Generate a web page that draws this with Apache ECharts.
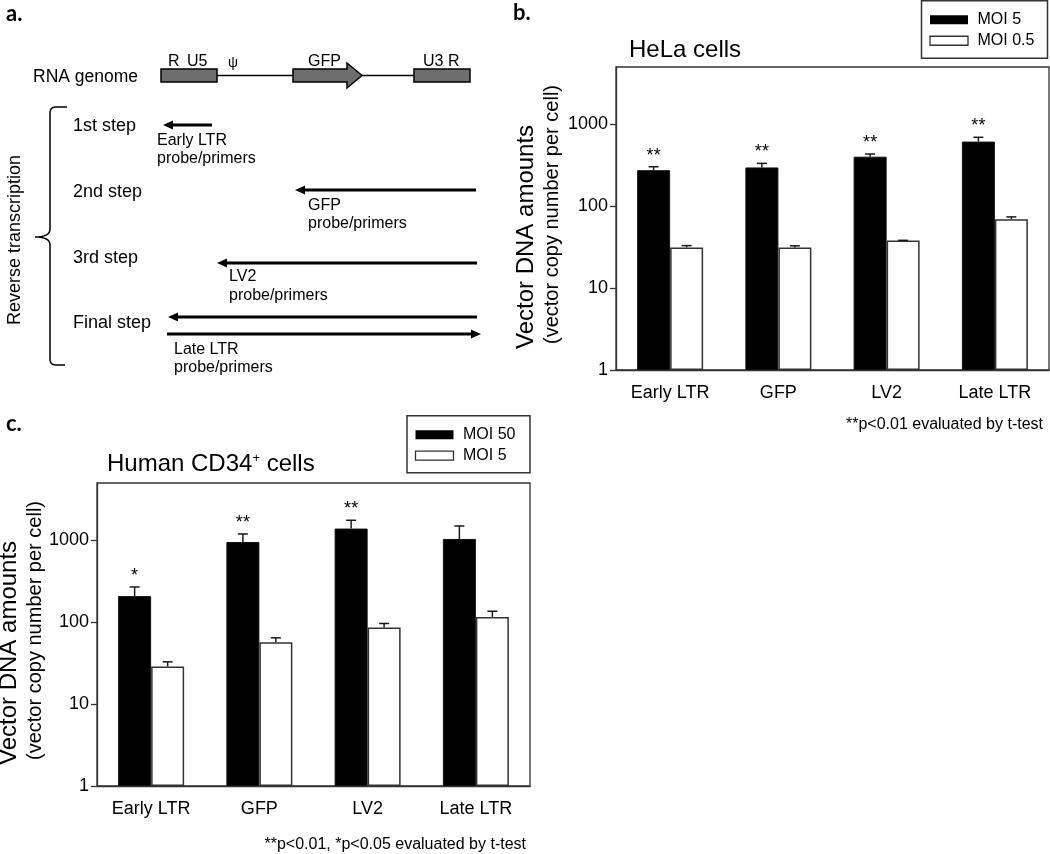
<!DOCTYPE html>
<html><head><meta charset="utf-8">
<script src="https://cdn.jsdelivr.net/npm/echarts@6/dist/echarts.min.js"></script>
<style>html,body{margin:0;padding:0;background:#fff}#c{width:1050px;height:854px}</style>
</head><body><div id="c"></div>
<script>
// ---- data ----
const categories = ['Early LTR', 'GFP', 'LV2', 'Late LTR'];
const yTicks = [1, 10, 100, 1000];
const helaMoi5 = [275, 297, 402, 614];
const helaMoi5Se = [28, 36, 31, 79];
const helaMoi05 = [31.4, 31.2, 38.1, 69.3];
const helaMoi05Se = [1.6, 1.6, 0.2, 4.7];
const helaStars = ['**', '**', '**', '**'];
const cd34Moi50 = [208, 953, 1389, 1037];
const cd34Moi50Se = [61, 241, 365, 457];
const cd34Moi5 = [28.8, 57, 86.1, 116];
const cd34Moi5Se = [4, 7.4, 10.3, 20];
const cd34Stars = ['*', '**', '**', ''];

// ---- style ----
const FONT = '"Liberation Sans", Arial, sans-serif';
const BOLD = 'bold 22px Lato, "Open Sans", sans-serif';
const AX = '#333';
const BAR_W = 33;
const CAP = 5;

function errRender(side, stars) {
  return function (params, api) {
    const i = params.dataIndex;
    const m = api.value(1), se = api.value(2);
    const b = api.coord([api.value(0), m]);
    const t = api.coord([api.value(0), m + se]);
    const x = b[0] + side * BAR_W / 2;
    const ls = { stroke: '#1a1a1a', lineWidth: 1.5 };
    const ch = [
      { type: 'line', shape: { x1: x, y1: b[1], x2: x, y2: t[1] }, style: ls },
      { type: 'line', shape: { x1: x - CAP, y1: t[1], x2: x + CAP, y2: t[1] }, style: ls }
    ];
    if (stars && stars[i]) {
      ch.push({ type: 'text', style: { text: stars[i], x: x, y: t[1] - 11, align: 'center', verticalAlign: 'middle', font: '18px ' + FONT, fill: '#000' } });
    }
    return { type: 'group', children: ch };
  };
}

function makeAxes(gi) {
  const lineStyle = { color: AX, width: 1.3 };
  return {
    x: { type: 'category', gridIndex: gi, data: categories, axisTick: { show: false },
      axisLine: { lineStyle }, axisLabel: { fontSize: 18, color: '#000', fontFamily: FONT, margin: 14 } },
    y: { type: 'log', logBase: 10, gridIndex: gi, min: 1, max: 5000, splitLine: { show: false },
      axisLine: { show: true, lineStyle },
      axisTick: { show: true, inside: false, length: 6, lineStyle, customValues: yTicks },
      axisLabel: { fontSize: 18, color: '#000', fontFamily: FONT, margin: 8,
        customValues: yTicks, formatter: v => String(Math.round(v)) } }
  };
}
const a0 = makeAxes(0), a1 = makeAxes(1);

function barSeries(name, gi, data, dark) {
  return { type: 'bar', name, xAxisIndex: gi, yAxisIndex: gi, data, barWidth: BAR_W, barGap: '0%',
    itemStyle: dark ? { color: '#000', borderColor: '#111', borderWidth: 1 } : { color: '#fff', borderColor: '#333', borderWidth: 1.5 } };
}
function errSeries(gi, means, ses, side, stars) {
  return { type: 'custom', xAxisIndex: gi, yAxisIndex: gi, z: 5, silent: true,
    data: categories.map((c, i) => [i, means[i], ses[i]]), encode: { x: 0, y: 1 },
    renderItem: errRender(side, stars) };
}

// ---- graphic helpers ----
function txt(x, y, s, size, extra) {
  return { type: 'text', x, y, style: Object.assign({ text: s, font: size + 'px ' + FONT, fill: '#000', align: 'left', verticalAlign: 'middle' }, extra || {}) };
}
function arrow(xTail, xTip, y) {
  const d = xTip > xTail ? 1 : -1, hl = 10, hw = 4.5;
  return [
    { type: 'line', shape: { x1: xTail, y1: y, x2: xTip - d * (hl - 1), y2: y }, style: { stroke: '#000', lineWidth: 3 } },
    { type: 'polygon', shape: { points: [[xTip, y], [xTip - d * hl, y - hw], [xTip - d * hl, y + hw]] }, style: { fill: '#000' } }
  ];
}
function vText(x, y, s, size) {
  return { type: 'text', x, y, rotation: Math.PI / 2, style: { text: s, font: size + 'px ' + FONT, fill: '#000', align: 'left', verticalAlign: 'middle' } };
}
function legendBox(x, y, w, h, items) {
  const g = [{ type: 'rect', shape: { x, y, width: w, height: h }, style: { fill: '#fff', stroke: AX, lineWidth: 1.5 } }];
  items.forEach((it, k) => {
    const cy = y + 19 + k * 21;
    g.push({ type: 'rect', shape: { x: x + 8.5, y: cy - 4.5, width: 38, height: 9 }, style: it.dark ? { fill: '#000' } : { fill: '#fff', stroke: AX, lineWidth: 1.3 } });
    g.push(txt(x + 56, cy, it.name, 16));
  });
  return g;
}
// quadratic curve sampled into points for a polyline
function quad(p0, p1, p2, n) {
  const pts = [];
  for (let k = 1; k <= n; k++) {
    const t = k / n, u = 1 - t;
    pts.push([u * u * p0[0] + 2 * u * t * p1[0] + t * t * p2[0], u * u * p0[1] + 2 * u * t * p1[1] + t * t * p2[1]]);
  }
  return pts;
}
const bracePts = [[67, 107], [56, 107]]
  .concat(quad([56, 107], [50, 107], [50, 113], 6))
  .concat([[50, 229]])
  .concat(quad([50, 229], [50, 237], [35, 237], 8))
  .concat(quad([35, 237], [50, 237], [50, 245], 8))
  .concat([[50, 359]])
  .concat(quad([50, 359], [50, 365], [56, 365], 6))
  .concat([[65, 365]]);

const gray = '#6e6e6e';
const graphics = [].concat(
  [
    { type: 'text', x: 6, y: 14, style: { text: 'a.', font: BOLD, fill: '#000', verticalAlign: 'middle' } },
    { type: 'text', x: 513, y: 13, style: { text: 'b.', font: BOLD, fill: '#000', verticalAlign: 'middle' } },
    { type: 'text', x: 6, y: 424, style: { text: 'c.', font: BOLD, fill: '#000', verticalAlign: 'middle' } },
    txt(33, 77, 'RNA genome', 17.5),
    txt(168, 62, 'R', 16), txt(187, 62, 'U5', 16), txt(228, 63, 'ψ', 14), txt(308, 62, 'GFP', 16), txt(423, 62, 'U3', 16), txt(448, 62, 'R', 16),
    { type: 'line', shape: { x1: 217, y1: 75.5, x2: 293, y2: 75.5 }, style: { stroke: '#000', lineWidth: 1.5 } },
    { type: 'line', shape: { x1: 362, y1: 75.5, x2: 414, y2: 75.5 }, style: { stroke: '#000', lineWidth: 1.5 } },
    { type: 'rect', shape: { x: 161, y: 69, width: 56, height: 13 }, style: { fill: gray, stroke: '#000', lineWidth: 1.5 } },
    { type: 'rect', shape: { x: 414, y: 69, width: 56, height: 13 }, style: { fill: gray, stroke: '#000', lineWidth: 1.5 } },
    { type: 'polygon', shape: { points: [[293, 69], [347, 69], [347, 63], [362, 75.5], [347, 88], [347, 82], [293, 82]] }, style: { fill: gray, stroke: '#000', lineWidth: 1.5 } },
    { type: 'polyline', shape: { points: bracePts }, style: { fill: null, stroke: '#000', lineWidth: 1.5 } },
    { type: 'text', x: 15, y: 240, rotation: Math.PI / 2, style: { text: 'Reverse transcription', font: '18px ' + FONT, fill: '#000', align: 'center', verticalAlign: 'middle' } },
    txt(73, 126, '1st step', 18), txt(73, 192, '2nd step', 18), txt(73, 258, '3rd step', 18), txt(73, 323, 'Final step', 18),
    txt(157, 141, 'Early LTR', 16), txt(157, 159, 'probe/primers', 16),
    txt(308, 206, 'GFP', 16), txt(308, 224, 'probe/primers', 16),
    txt(229, 277, 'LV2', 16), txt(229, 296, 'probe/primers', 16),
    txt(174, 350, 'Late LTR', 16), txt(174, 368, 'probe/primers', 16)
  ],
  arrow(212, 163, 125), arrow(476, 295, 190), arrow(477, 217, 263), arrow(477, 168, 317), arrow(167, 481, 334),
  [
    txt(629, 50, 'HeLa cells', 24),
    { type: 'text', x: 107, y: 464, style: { text: '{m|Human CD34}{s|+}{m| cells}', fill: '#000', align: 'left', verticalAlign: 'middle',
      rich: { m: { fontSize: 24, fontFamily: FONT, fill: '#000' }, s: { fontSize: 13, fontFamily: FONT, fill: '#000', verticalAlign: 'top', padding: [0, 0, 8, 0] } } } },
    vText(526, 349, 'Vector DNA amounts', 24), vText(552, 344, '(vector copy number per cell)', 20),
    vText(9, 765, 'Vector DNA amounts', 24), vText(35, 760, '(vector copy number per cell)', 20),
    txt(1043, 425, '**p<0.01 evaluated by t-test', 16, { align: 'right' }),
    txt(526, 845, '**p<0.01, *p<0.05 evaluated by t-test', 16, { align: 'right' })
  ],
  legendBox(921.5, 0.75, 126, 57.5, [{ name: 'MOI 5', dark: true }, { name: 'MOI 0.5', dark: false }]),
  legendBox(407, 415.7, 123, 57, [{ name: 'MOI 50', dark: true }, { name: 'MOI 5', dark: false }])
);

const chart = echarts.init(document.getElementById('c'), null, { renderer: 'canvas' });
chart.setOption({
  animation: false,
  backgroundColor: '#fff',
  grid: [
    { left: 616, top: 67, width: 433, height: 303, show: true, borderColor: AX, borderWidth: 1.3 },
    { left: 97, top: 483, width: 433, height: 303, show: true, borderColor: AX, borderWidth: 1.3 }
  ],
  xAxis: [a0.x, a1.x],
  yAxis: [a0.y, a1.y],
  series: [
    barSeries('MOI 5', 0, helaMoi5, true),
    barSeries('MOI 0.5', 0, helaMoi05, false),
    errSeries(0, helaMoi5, helaMoi5Se, -1, helaStars),
    errSeries(0, helaMoi05, helaMoi05Se, 1, null),
    barSeries('MOI 50', 1, cd34Moi50, true),
    barSeries('MOI 5 ', 1, cd34Moi5, false),
    errSeries(1, cd34Moi50, cd34Moi50Se, -1, cd34Stars),
    errSeries(1, cd34Moi5, cd34Moi5Se, 1, null)
  ],
  graphic: graphics
});
</script></body></html>
